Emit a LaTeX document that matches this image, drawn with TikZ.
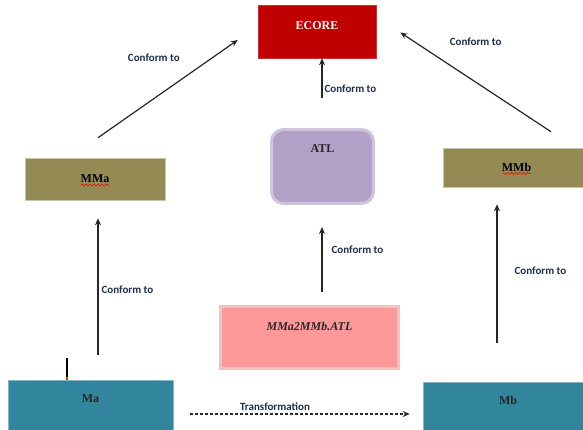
\documentclass[tikz,border=0pt]{standalone}
\usepackage{fontspec}
\setmainfont{Liberation Serif}
\newfontfamily\lblfont{Carlito}
\usepackage{tikz}
\usetikzlibrary{arrows.meta,positioning,decorations.pathmorphing}
\definecolor{ecorered}{HTML}{C00000}
\definecolor{atlfill}{HTML}{B2A1C7}
\definecolor{atledge}{HTML}{CFC4DD}
\definecolor{trffill}{HTML}{FF9999}
\definecolor{trfedge}{HTML}{F0C2C2}
\definecolor{mmfill}{HTML}{948A54}
\definecolor{mfill}{HTML}{31859C}
\definecolor{lblink}{HTML}{1F2F4F}
\tikzset{
  ecorebox/.style={draw=ecorered!80!white,fill=ecorered,line width=0.6pt,inner sep=0pt},
  atlbox/.style={draw=atledge,fill=atlfill,line width=3pt,rounded corners=12pt,inner sep=0pt},
  trfbox/.style={draw=trfedge,fill=trffill,line width=3pt,inner sep=0pt},
  mmbox/.style={draw=mmfill!50!white,fill=mmfill,line width=0.6pt,inner sep=0pt,
                font=\fontsize{12}{14}\selectfont\bfseries},
  mbox/.style={draw=mfill!60!white,fill=mfill,line width=0.6pt,inner sep=0pt},
  boxlbl/.style={font=\fontsize{12}{14}\selectfont\bfseries,text=black!85,inner sep=0pt},
  conf/.style={-{Stealth[length=7pt,width=6pt]},line width=1.2pt,draw=black!85},
  trfarr/.style={conf,dashed,dash pattern=on 3pt off 2pt},
  conflbl/.style={font=\lblfont\fontsize{11}{13}\selectfont\bfseries,text=lblink,inner sep=1pt},
  spellwave/.style={draw=red,line width=0.6pt,decorate,
                    decoration={snake,amplitude=1pt,segment length=4pt}}
}
\begin{document}
\begin{tikzpicture}[x=1pt,y=-1pt]
  \clip (0,0) rectangle (583,430);
  \fill[white] (0,0) rectangle (583,430);

  \node[ecorebox,minimum width=118pt,minimum height=53pt,
        label={[boxlbl,text=white,yshift=6pt]center:ECORE}] (ecore) at (317,31.5) {};
  \node[atlbox,minimum width=102pt,minimum height=74pt,
        label={[boxlbl,yshift=18pt]center:ATL}] (atl) at (322.5,166.5) {};
  \node[trfbox,minimum width=178pt,minimum height=62pt,
        label={[boxlbl,font=\fontsize{12}{14}\selectfont\bfseries\itshape,yshift=11pt]center:MMa2MMb.ATL}] (mma2mmb) at (309.5,337.5) {};
  \node[mmbox,minimum width=140pt,minimum height=42pt] (mma) at (95,179) {MMa};
  \node[mmbox,minimum width=147pt,minimum height=39pt] (mmb) at (516.5,167.5) {MMb};
  \node[mbox,minimum width=165pt,minimum height=60pt,
        label={[boxlbl,yshift=11pt]center:Ma}] (ma) at (90.5,410) {};
  \node[mbox,minimum width=170pt,minimum height=58pt,
        label={[boxlbl,yshift=11pt]center:Mb}] (mb) at (508,411) {};

  % spell-check marks under the metamodel names
  \draw[spellwave] ([xshift=-14pt,yshift=-6pt]mma.center) -- ++(28,0);
  \draw[spellwave] ([xshift=-14pt,yshift=-6pt]mmb.center) -- ++(28,0);

  \draw[conf,shorten <=25pt,shorten >=18pt] ([xshift=7.5pt]ma.north) -- ([xshift=3pt]mma.south)
    node[conflbl,pos=0.5,right=2pt] {Conform to};
  \draw[conf,shorten <=39pt,shorten >=17pt] ([xshift=-11pt]mb.north) -- ([xshift=-19.5pt]mmb.south)
    node[conflbl,pos=0.57,right=16pt] {Conform to};
  \draw[conf,shorten <=13pt,shorten >=22pt] ([xshift=12.5pt]mma2mmb.north) -- ([xshift=-0.5pt]atl.south)
    node[conflbl,pos=0.55,right=8pt] {Conform to};
  \draw[conf,shorten <=30pt] ([xshift=-0.5pt]atl.north) -- ([xshift=5pt]ecore.south)
    node[conflbl,pos=0.57,right=1pt] {Conform to};
  \draw[conf] ([xshift=3pt,yshift=20pt]mma.north) -- ([xshift=-20pt,yshift=-8.5pt]ecore.west)
    node[conflbl,pos=0.4,yshift=41pt] {Conform to};
  \draw[conf] ([xshift=34.5pt,yshift=16pt]mmb.north) -- ([xshift=24pt,yshift=-1pt]ecore.east)
    node[conflbl,pos=0.5,yshift=40pt] {Conform to};
  \draw[trfarr,shorten <=17pt,shorten >=13pt] ([yshift=-4pt]ma.east) -- ([yshift=-3pt]mb.west)
    node[conflbl,midway,above=2pt,xshift=-23pt] {Transformation};

  % cursor mark on Ma
  \draw[line width=1.8pt,black] ([xshift=-23.5pt]ma.north) -- ++(0,-22);
  \draw[line width=1.8pt,red!70!orange] ([xshift=-23.5pt]ma.north) -- ++(0,-3);
\end{tikzpicture}
\end{document}
